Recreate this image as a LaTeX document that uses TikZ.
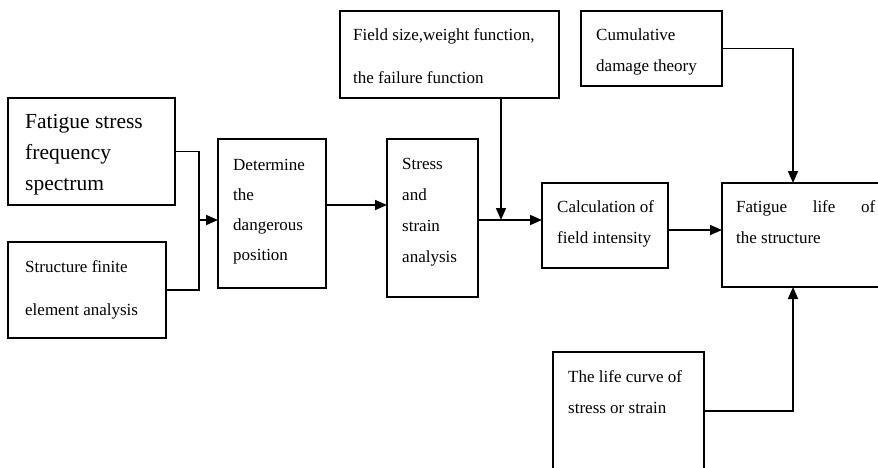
\documentclass[tikz,border=0pt]{standalone}
\usepackage{fontspec}
\setmainfont{Liberation Serif}
\usetikzlibrary{arrows.meta}
\begin{document}
\begin{tikzpicture}[x=1pt,y=-1pt,
  box/.style={draw=black,line width=1.2pt,rectangle,anchor=north west,inner sep=0pt,outer sep=0pt},
  txt/.style={anchor=north west,inner sep=0pt,align=left,font=\fontsize{17}{31}\selectfont},
  conn/.style={line width=1.7pt},
  arr/.style={line width=1.7pt,-{Triangle[length=12pt,width=10pt]}}]
\useasboundingbox (0,0) rectangle (878,467);
\clip (0,0) rectangle (878,467);
% boxes
\node[box,minimum width=167pt,minimum height=107pt] (b1) at (8,98) {};
\node[box,minimum width=158pt,minimum height=96pt] (b2) at (8,242) {};
\node[box,minimum width=108pt,minimum height=149pt] (b3) at (218,139) {};
\node[box,minimum width=91pt,minimum height=158pt] (b4) at (387,139) {};
\node[box,minimum width=219pt,minimum height=87pt] (b5) at (340,11) {};
\node[box,minimum width=141pt,minimum height=75pt] (b6) at (581,11) {};
\node[box,minimum width=126pt,minimum height=85pt] (b7) at (542,183) {};
\node[box,minimum width=200pt,minimum height=104pt] (b8) at (722,183) {};
\node[box,minimum width=151pt,minimum height=140pt] (b9) at (553,352) {};
% texts
\node[txt,font=\fontsize{21.5}{31}\selectfont] (t1) at (25,114) {Fatigue stress\\frequency\\spectrum};
\node[txt,font=\fontsize{17}{43}\selectfont] (t2) at (25,260) {Structure finite\\element analysis};
\node[txt,font=\fontsize{17}{30}\selectfont] (t3) at (233,159) {Determine\\the\\dangerous\\position};
\node[txt] (t4) at (402,158) {Stress\\and\\strain\\analysis};
\node[txt,font=\fontsize{17}{43}\selectfont] (t5) at (353,28) {Field size,weight function,\\the failure function};
\node[txt] (t6) at (596,28) {Cumulative\\damage theory};
\node[txt] (t7) at (557,200) {Calculation of\\field intensity};
\node[txt] (t8) at (736,200) {\makebox[139pt][s]{Fatigue life of}\\the structure};
\node[txt] (t9) at (568,370) {The life curve of\\stress or strain};
% connectors
\coordinate (j1) at (199,220);
\coordinate (j2) at (501,220);
\coordinate (y34) at (0,205);
\coordinate (y78) at (0,230);
\coordinate (x68) at (793,0);
\coordinate (y98) at (0,411);
\draw[conn] (b1.east) -| (j1) |- (b2.east);
\draw[arr] (j1) -- (b3.west |- j1);
\draw[arr] (b3.east |- y34) -- (b4.west |- y34);
\draw[arr] (b4.east |- j2) -- (b7.west |- j2);
\draw[arr] (b5.south -| j2) -- (j2);
\draw[arr] (b7.east |- y78) -- (b8.west |- y78);
\draw[arr] (b6.east) -| (b8.north -| x68);
\draw[arr] (b9.east |- y98) -| (b8.south -| x68);
\end{tikzpicture}
\end{document}
